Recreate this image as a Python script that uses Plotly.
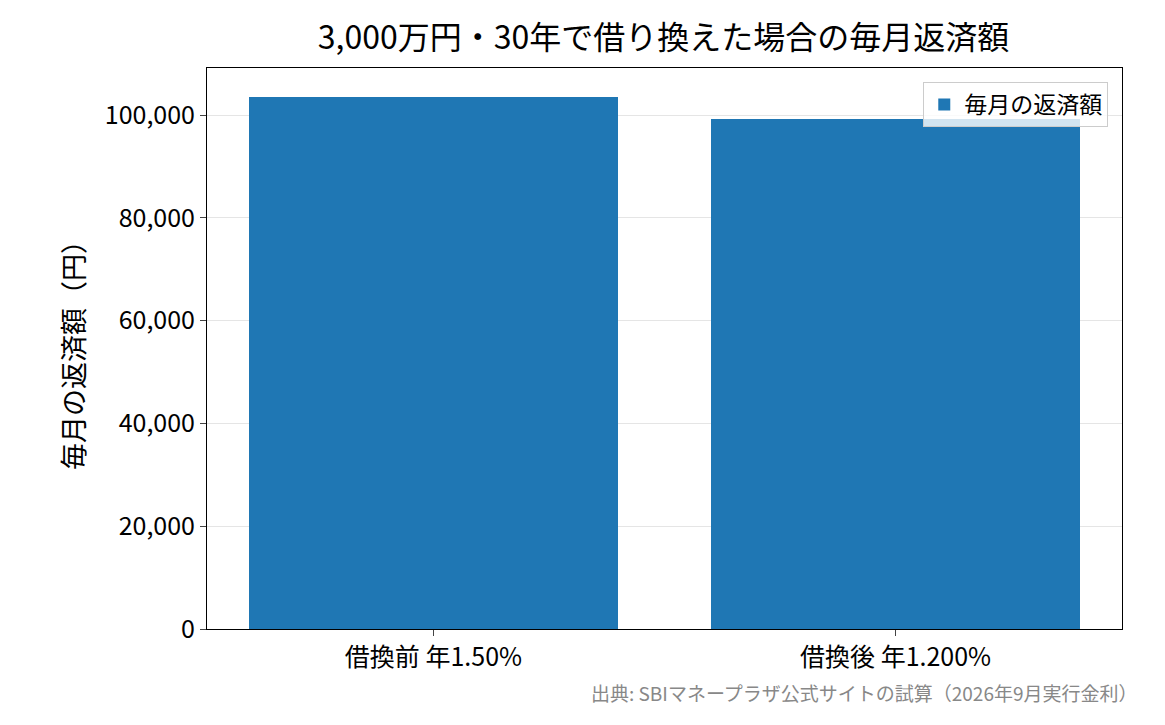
import plotly.graph_objects as go

categories = ["借換前 年1.50%", "借換後 年1.200%"]
payments = [103536, 99270]
series_name = "毎月の返済額"
y_ticks = [0, 20000, 40000, 60000, 80000, 100000]

font = "Noto Sans CJK JP"

fig = go.Figure()
fig.add_trace(go.Bar(
    x=[0, 1], y=payments, width=0.8, name=series_name,
    marker=dict(color="#1f77b4", line=dict(width=0)),
))

fig.update_layout(
    width=1150, height=710,
    paper_bgcolor="white", plot_bgcolor="white",
    font=dict(family=font, size=25, color="black"),
    margin=dict(l=199, r=36, t=60, b=89),
    title=dict(text="3,000万円・30年で借り換えた場合の毎月返済額", x=0.57, xanchor="center",
               y=0.958, yanchor="middle", font=dict(size=32)),
    showlegend=True,
    legend=dict(x=0.985, y=0.975, xanchor="right", yanchor="top",
                bgcolor="rgba(255,255,255,0.8)", bordercolor="#cccccc", borderwidth=1,
                font=dict(size=23)),
    bargap=0,
)
fig.update_xaxes(range=[-0.49, 1.49], tickvals=[0, 1], ticktext=categories,
                 showline=True, linecolor="black", mirror=True, ticks="outside",
                 ticklen=6, showgrid=False, zeroline=False)
fig.update_yaxes(range=[0, 109144], tickvals=y_ticks, tickformat=",",
                 showline=True, linecolor="black", mirror=True, ticks="outside",
                 ticklen=6, showgrid=True, gridcolor="rgba(0,0,0,0.1)", zeroline=False,
                 title=dict(text="毎月の返済額（円）", font=dict(size=27), standoff=12))
fig.add_annotation(text="出典: SBIマネープラザ公式サイトの試算（2026年9月実行金利）",
                   xref="paper", yref="paper", x=1.02, y=-0.085, xanchor="right", yanchor="top",
                   showarrow=False, font=dict(size=19, color="#888888"))

fig.write_html("out.html")
